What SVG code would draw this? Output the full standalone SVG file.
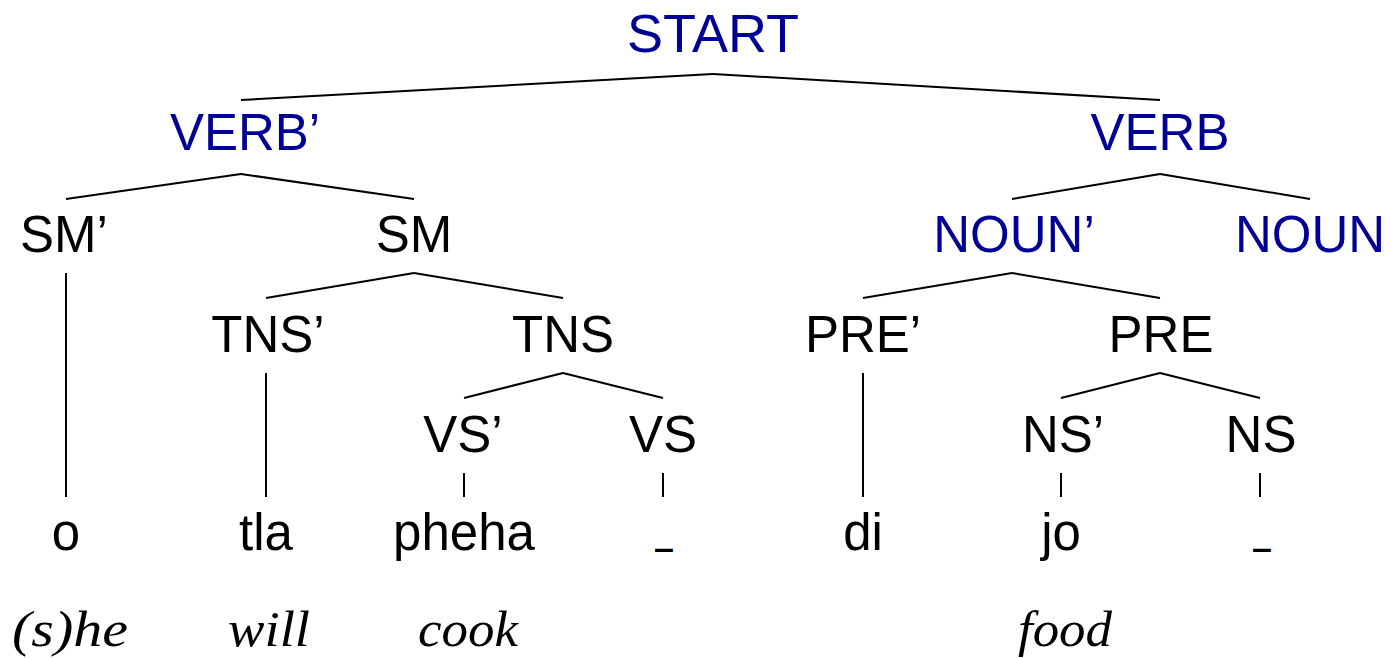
<svg xmlns="http://www.w3.org/2000/svg" width="1391" height="658" viewBox="0 0 1391 658">
<style>
text{font-family:"Liberation Sans",Arial,sans-serif;font-size:51px;text-anchor:middle;fill:#000}
.nt{fill:#000096}
.big{font-size:54px}
.it{font-family:"Liberation Serif","Times New Roman",serif;font-style:italic;font-size:50px}
#edges line{stroke:#000;stroke-width:2}
</style>
<rect width="1391" height="658" fill="#fff"/>
<g id="edges">
<line x1="713" y1="74" x2="241" y2="100"/>
<line x1="713" y1="74" x2="1160" y2="100"/>
<line x1="241" y1="174" x2="66" y2="199"/>
<line x1="241" y1="174" x2="414" y2="199"/>
<line x1="1160" y1="174" x2="1012" y2="199"/>
<line x1="1160" y1="174" x2="1310" y2="199"/>
<line x1="66" y1="273" x2="66" y2="497"/>
<line x1="414" y1="273" x2="266" y2="298"/>
<line x1="414" y1="273" x2="563" y2="298"/>
<line x1="1012" y1="273" x2="863" y2="298"/>
<line x1="1012" y1="273" x2="1160" y2="298"/>
<line x1="266" y1="373" x2="266" y2="497"/>
<line x1="563" y1="373" x2="464" y2="398"/>
<line x1="563" y1="373" x2="663" y2="398"/>
<line x1="863" y1="373" x2="863" y2="497"/>
<line x1="1160" y1="373" x2="1061" y2="398"/>
<line x1="1160" y1="373" x2="1260" y2="398"/>
<line x1="464" y1="473" x2="464" y2="497"/>
<line x1="663" y1="473" x2="663" y2="497"/>
<line x1="1061" y1="473" x2="1061" y2="497"/>
<line x1="1260" y1="473" x2="1260" y2="497"/>
</g>
<g id="n-start"><text class="nt big" x="713" y="52">START</text></g>
<g id="n-verbp"><text class="nt" x="245" y="150">VERB’</text></g>
<g id="n-verb"><text class="nt" x="1160" y="150">VERB</text></g>
<g id="n-smp"><text x="64" y="252">SM’</text></g>
<g id="n-sm"><text x="414" y="252">SM</text></g>
<g id="n-nounp"><text class="nt" x="1014" y="252">NOUN’</text></g>
<g id="n-noun"><text class="nt" x="1310" y="252">NOUN</text></g>
<g id="n-tnsp"><text x="268" y="352">TNS’</text></g>
<g id="n-tns"><text x="563" y="352">TNS</text></g>
<g id="n-prep"><text x="863" y="352">PRE’</text></g>
<g id="n-pre"><text x="1161" y="352">PRE</text></g>
<g id="n-vsp"><text x="463" y="452">VS’</text></g>
<g id="n-vs"><text x="663" y="452">VS</text></g>
<g id="n-nsp"><text x="1063" y="452">NS’</text></g>
<g id="n-ns"><text x="1261" y="452">NS</text></g>
<g id="l-o"><text x="66" y="550">o</text></g>
<g id="l-tla"><text x="266" y="550">tla</text></g>
<g id="l-pheha"><text x="464" y="550">pheha</text></g>
<g id="l-us1"><text x="664" y="542" textLength="17" lengthAdjust="spacingAndGlyphs">_</text></g>
<g id="l-di"><text x="863" y="550">di</text></g>
<g id="l-jo"><text x="1061" y="550">jo</text></g>
<g id="l-us2"><text x="1262" y="542" textLength="17" lengthAdjust="spacingAndGlyphs">_</text></g>
<g id="g-she"><text class="it" x="70" y="646" textLength="116" lengthAdjust="spacingAndGlyphs">(s)he</text></g>
<g id="g-will"><text class="it" x="269" y="646" textLength="82" lengthAdjust="spacingAndGlyphs">will</text></g>
<g id="g-cook"><text class="it" x="468" y="646" textLength="100" lengthAdjust="spacingAndGlyphs">cook</text></g>
<g id="g-food"><text class="it" x="1065" y="646" textLength="94" lengthAdjust="spacingAndGlyphs">food</text></g>
</svg>
